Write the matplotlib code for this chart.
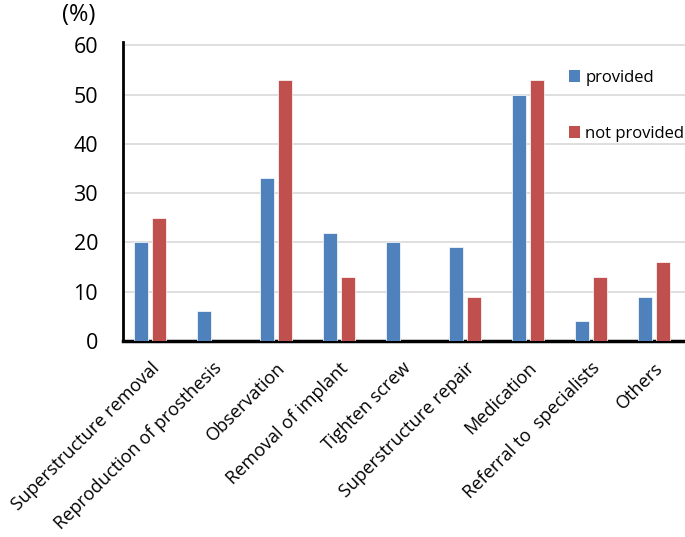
import matplotlib
matplotlib.use("Agg")
import matplotlib.pyplot as plt
import numpy as np
from matplotlib.patches import Patch

plt.rcParams["font.family"] = ["Open Sans", "DejaVu Sans"]

categories = [
    "Superstructure removal",
    "Reproduction of prosthesis",
    "Observation",
    "Removal of implant",
    "Tighten screw",
    "Superstructure repair",
    "Medication",
    "Referral to  specialists",
    "Others",
]
provided = [20, 6, 33, 22, 20, 19, 50, 4, 9]
not_provided = [25, 0, 53, 13, 0, 9, 53, 13, 16]
y_ticks = [0, 10, 20, 30, 40, 50, 60]

blue = "#4f81bd"
red = "#c0504d"

fig = plt.figure(figsize=(6.85, 5.37), dpi=100)
ax = fig.add_axes([0.1796, 0.365, 0.8204, 0.557])

x = np.arange(len(categories))
w = 0.22
ax.bar(x - 0.145, provided, width=w, color=blue, edgecolor="white", linewidth=0.5, zorder=3)
ax.bar(x + 0.145, not_provided, width=w, color=red, edgecolor="white", linewidth=0.5, zorder=3)

ax.set_xlim(-0.43, 8.49)
ax.set_ylim(0, 60.7)
ax.set_yticks(y_ticks)
ax.set_yticklabels([str(v) for v in y_ticks], fontsize=15.5)
ax.tick_params(axis="y", length=0, pad=18)
ax.yaxis.grid(True, color="#d9d9d9", linewidth=1.2, zorder=0)
ax.set_axisbelow(True)

ax.set_xticks(x)
ax.set_xticklabels(categories, rotation=45, ha="right", rotation_mode="anchor", fontsize=13.1)
ax.tick_params(axis="x", length=0, pad=13)

for side in ("top", "right"):
    ax.spines[side].set_visible(False)
ax.spines["left"].set_linewidth(2)
ax.spines["bottom"].set_linewidth(2.5)

fig.text(0.09, 0.972, "(%)", fontsize=17, va="center")

handles = [Patch(facecolor=blue, label="provided"),
           Patch(facecolor=red, label="not provided")]
fig.legend(handles=handles, loc="upper left", bbox_to_anchor=(0.818, 0.885),
           frameon=False, fontsize=12, handlelength=0.7, handleheight=0.7,
           handletextpad=0.3, labelspacing=2.4, borderpad=0)

fig.savefig("out.png", dpi=100)
